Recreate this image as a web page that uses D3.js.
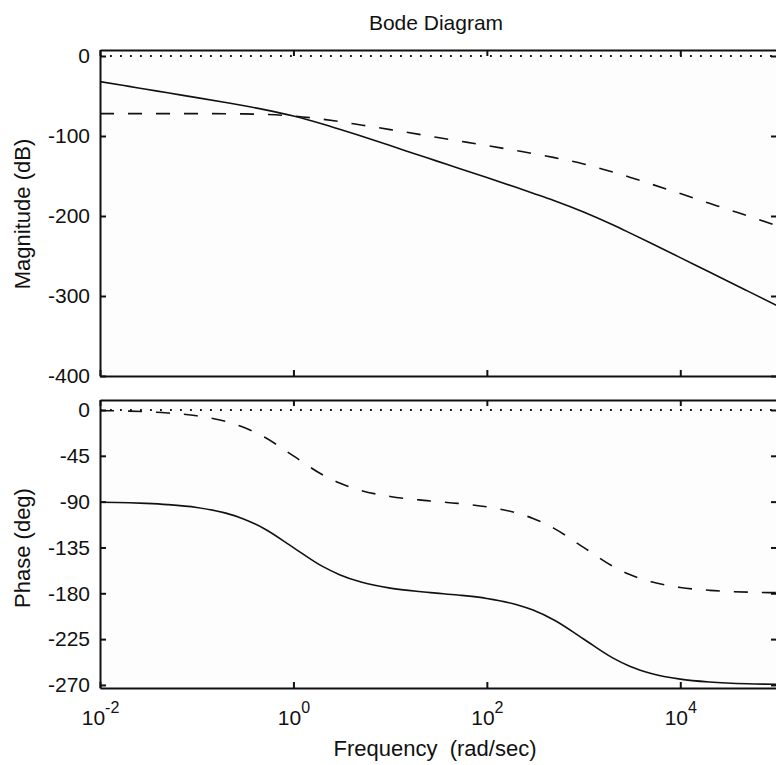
<!DOCTYPE html>
<html>
<head>
<meta charset="utf-8">
<script src="https://cdn.jsdelivr.net/npm/d3@7"></script>
<style>
  body { margin: 0; background: #fff; }
  text { font-family: "Liberation Sans", Arial, sans-serif; fill: #111; }
</style>
</head>
<body>
<svg width="776" height="765"></svg>
<script>
// frequency samples (rad/sec) and curves
var freq = [0.01, 0.02, 0.03, 0.05, 0.1, 0.2, 0.3, 0.5, 1, 2, 3, 5, 10, 20, 30, 50,
            100, 200, 300, 500, 1000, 2000, 3000, 5000, 1e4, 2e4, 3e4, 5e4, 1e5];
var magSolid = [-32.0, -38.0, -41.5, -46.0, -52.0, -58.2, -61.9, -67.0, -75.0, -85.0, -91.5, -100.1,
                -112.0, -124.1, -131.1, -140.0, -152.0, -164.2, -171.5, -180.9, -195.0, -211.0,
                -221.1, -234.1, -252.0, -270.1, -280.6, -293.9, -312.0];
var magDashed = [-72.0, -72.0, -72.0, -72.0, -72.0, -72.2, -72.4, -73.0, -75.0, -79.0, -82.0, -86.2,
                 -92.0, -98.0, -101.6, -106.0, -112.0, -118.2, -121.9, -127.0, -135.0, -145.0,
                 -151.5, -160.1, -172.0, -184.1, -191.1, -200.0, -212.0];
var phaseSolid = [-90.6, -91.1, -91.7, -92.9, -95.7, -101.3, -106.7, -116.6, -135.1, -153.6, -161.7,
                  -169.0, -174.9, -178.3, -179.8, -181.7, -185.1, -191.0, -196.5, -206.5, -224.9,
                  -243.4, -251.6, -258.7, -264.3, -267.1, -268.1, -268.9, -269.4];
var phaseDashed = [-0.6, -1.1, -1.7, -2.9, -5.7, -11.3, -16.7, -26.6, -45.1, -63.6, -71.7, -79.0,
                   -84.9, -88.3, -89.8, -91.7, -95.1, -101.0, -106.5, -116.5, -134.9, -153.4,
                   -161.6, -168.7, -174.3, -177.1, -178.1, -178.9, -179.4];

var magTicks = [0, -100, -200, -300, -400];
var phaseTicks = [0, -45, -90, -135, -180, -225, -270];
var freqTicks = [1e-2, 1e0, 1e2, 1e4];

var svg = d3.select("svg"),
    left = 100, right = 777;

var x = d3.scaleLog().domain([1e-2, 1e5]).range([left, right]);
var yMag = d3.scaleLinear().domain([7.5, -400]).range([50, 376]);
var yPh = d3.scaleLinear().domain([9.8, -273]).range([400, 688]);

svg.append("text")
    .attr("x", 436).attr("y", 30)
    .attr("text-anchor", "middle")
    .style("font-size", "21px")
    .text("Bode Diagram");

function panel(y, ticks, series, label, labelY, showX, id) {
  var top = y.range()[0], bottom = y.range()[1];
  var g = svg.append("g");

  g.append("rect")
      .attr("x", left).attr("y", top)
      .attr("width", right - left).attr("height", bottom - top)
      .attr("fill", "#fdfdfd");

  g.append("clipPath").attr("id", id)
    .append("rect")
      .attr("x", left).attr("y", top)
      .attr("width", right - left).attr("height", bottom - top);

  // zero reference line
  g.append("line")
      .attr("x1", left).attr("x2", right)
      .attr("y1", y(0)).attr("y2", y(0))
      .attr("stroke", "#111").attr("stroke-width", 1.8)
      .attr("stroke-dasharray", "1.8,8.2");

  var line = d3.line()
      .x(function(d) { return x(d[0]); })
      .y(function(d) { return y(d[1]); })
      .curve(d3.curveMonotoneX);

  series.forEach(function(s) {
    g.append("path")
        .datum(freq.map(function(f, i) { return [f, s.values[i]]; }))
        .attr("clip-path", "url(#" + id + ")")
        .attr("fill", "none")
        .attr("stroke", "#111")
        .attr("stroke-width", 1.6)
        .attr("stroke-dasharray", s.dash)
        .attr("d", line);
  });

  // axes, ticks pointing inward
  g.append("g")
      .attr("transform", "translate(" + left + ",0)")
      .call(d3.axisLeft(y).tickValues(ticks).tickSize(-6).tickSizeOuter(0).tickPadding(10)
            .tickFormat(function(d) { return d; }))
      .call(styleAxis);
  g.append("g")
      .attr("transform", "translate(" + right + ",0)")
      .call(d3.axisRight(y).tickValues(ticks).tickSize(-6).tickSizeOuter(0).tickFormat(""))
      .call(styleAxis);
  g.append("g")
      .attr("transform", "translate(0," + top + ")")
      .call(d3.axisTop(x).tickValues(freqTicks).tickSize(-6).tickSizeOuter(0).tickFormat(""))
      .call(styleAxis);
  var bx = g.append("g")
      .attr("transform", "translate(0," + bottom + ")")
      .call(d3.axisBottom(x).tickValues(freqTicks).tickSize(-6).tickSizeOuter(0).tickFormat(""))
      .call(styleAxis);

  g.selectAll(".tick text").style("font-size", "21px").attr("fill", "#111");

  if (showX) {
    bx.selectAll(".tick").append("text")
        .attr("y", 37)
        .attr("text-anchor", "middle")
        .attr("fill", "#111")
        .style("font-size", "21px")
        .each(function(d) {
          var t = d3.select(this);
          t.append("tspan").text("10");
          t.append("tspan")
              .attr("dy", -12)
              .style("font-size", "16px")
              .text(Math.round(Math.log10(d)));
        });
  }

  svg.append("text")
      .attr("transform", "translate(30," + labelY + ") rotate(-90)")
      .attr("text-anchor", "middle")
      .style("font-size", "22px")
      .text(label);
}

function styleAxis(a) {
  a.select(".domain").attr("stroke", "#111").attr("stroke-width", 2);
  a.selectAll(".tick line").attr("stroke", "#111").attr("stroke-width", 2);
}

panel(yMag, magTicks, [
  { values: magSolid, dash: null },
  { values: magDashed, dash: "14,14" }
], "Magnitude (dB)", 214, false, "clipMag");

panel(yPh, phaseTicks, [
  { values: phaseSolid, dash: null },
  { values: phaseDashed, dash: "14,14" }
], "Phase (deg)", 548, true, "clipPh");

svg.append("text")
    .attr("x", 435).attr("y", 756)
    .attr("text-anchor", "middle")
    .style("font-size", "22px")
    .attr("xml:space", "preserve")
    .text("Frequency  (rad/sec)");
</script>
</body>
</html>
